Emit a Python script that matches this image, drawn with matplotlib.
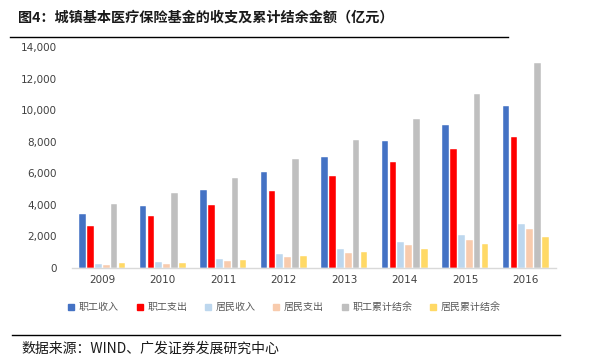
import matplotlib
matplotlib.use("Agg")
import matplotlib.pyplot as plt
from matplotlib.lines import Line2D
import numpy as np

plt.rcParams['font.family'] = ['Noto Sans CJK SC', 'DejaVu Sans']

years = ['2009', '2010', '2011', '2012', '2013', '2014', '2015', '2016']
series_names = ['职工收入', '职工支出', '居民收入', '居民支出', '职工累计结余', '居民累计结余']
emp_income = [3420, 3955, 4945, 6062, 7062, 8038, 9084, 10274]
emp_expense = [2630, 3272, 4018, 4868, 5830, 6697, 7532, 8287]
res_income = [251, 353, 594, 877, 1187, 1649, 2109, 2811]
res_expense = [167, 267, 413, 675, 971, 1437, 1781, 2480]
emp_balance = [4055, 4741, 5683, 6884, 8129, 9450, 10997, 12972]
res_balance = [306, 306, 497, 760, 987, 1195, 1546, 1993]
colors = ['#4472C4', '#FF0000', '#BDD7EE', '#F8CBAD', '#BFBFBF', '#FFD966']

data = [emp_income, emp_expense, res_income, res_expense, emp_balance, res_balance]

fig = plt.figure(figsize=(5.94, 3.64), dpi=100)
ax = fig.add_axes([72/594, 1-268/364, 484/594, 221/364])

x = np.arange(len(years))
pitch = 0.132
width = 0.108
for i, (vals, c, name) in enumerate(zip(data, colors, series_names)):
    ax.bar(x + (i - 2.5) * pitch, vals, width=width, color=c, label=name,
           edgecolor='white', linewidth=0.3)

ax.set_xlim(-0.5, len(years) - 0.5)
ax.set_ylim(0, 14000)
ax.set_yticks(np.arange(0, 14001, 2000))
ax.set_yticklabels([f'{v:,}' for v in range(0, 14001, 2000)])
ax.set_xticks(x)
ax.set_xticklabels(years)
ax.tick_params(axis='both', length=0, labelsize=7.5, colors='#404040', labelfontfamily='DejaVu Sans')
ax.tick_params(axis='y', pad=11)
ax.tick_params(axis='x', pad=5)
for s in ['top', 'right', 'left']:
    ax.spines[s].set_visible(False)
ax.spines['bottom'].set_color('#D9D9D9')
ax.spines['bottom'].set_linewidth(1.0)

# legend
handles = [Line2D([0], [0], marker='s', linestyle='none', markersize=4.5,
                  markerfacecolor=c, markeredgecolor=c) for c in colors]
leg = fig.legend(handles, series_names, loc='center', bbox_to_anchor=(284/594, 1-307/364),
                 ncol=6, frameon=False, fontsize=7.2, handletextpad=0.35,
                 columnspacing=1.69, handlelength=0.8)
for t in leg.get_texts():
    t.set_color('#595959')

# title
fig.text(18/594, 1-18/364, '图4：城镇基本医疗保险基金的收支及累计结余金额（亿元）',
         fontsize=10.2, fontweight='bold', color='#1a1a1a', va='center', ha='left')
fig.add_artist(Line2D([10/594, 508/594], [1-37/364, 1-37/364], color='black', linewidth=1.0))
fig.add_artist(Line2D([12/594, 560/594], [1-335/364, 1-335/364], color='black', linewidth=1.0))
fig.text(21/594, 1-349/364, '数据来源：WIND、广发证券发展研究中心',
         fontsize=10, color='#1a1a1a', va='center', ha='left')

fig.savefig('out.png', dpi=100)
